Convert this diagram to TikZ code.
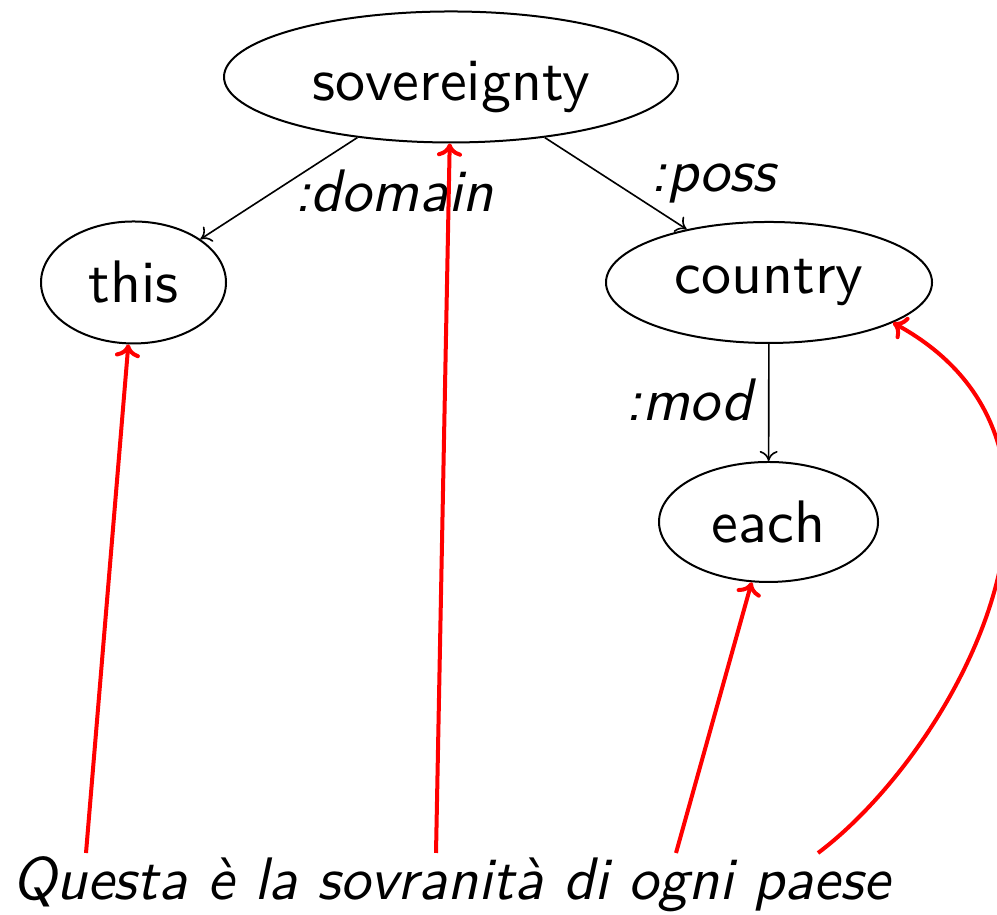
\documentclass[tikz,border=0pt]{standalone}
\usepackage{fontspec}
\usetikzlibrary{arrows.meta,shapes.geometric}
\newlength\pxu
\setlength\pxu{0.16667pt}
\begin{document}
\begin{tikzpicture}[x=0.16667pt,y=-0.16667pt,
  concept/.style={ellipse,draw,line width=0.333pt,inner sep=0pt,font=\sffamily},
  rel/.style={line width=0.27pt,-{Computer Modern Rightarrow[length=1.667pt,width=3pt]}},
  rellabel/.style={font=\sffamily\itshape,anchor=base,inner sep=0pt},
  wordlink/.style={red,line width=0.667pt,-{Computer Modern Rightarrow[length=2.167pt,width=4.167pt]}}]
\useasboundingbox (0,0) rectangle (997,915);

% concept nodes
\node[concept,minimum width=454\pxu,minimum height=131\pxu,text height=10pt,text depth=2pt] (sov) at (451,77) {sovereignty};
\node[concept,minimum width=185\pxu,minimum height=122\pxu] (this) at (133.5,282.5) {this};
\node[concept,minimum width=326\pxu,minimum height=121\pxu] (country) at (769,282.5) {country};
\node[concept,minimum width=219\pxu,minimum height=120\pxu] (each) at (768.5,522) {each};

% relations
\draw[rel] (sov) -- (this);
\draw[rel] (sov) -- (country);
\draw[rel] (country) -- (each);

\node[rellabel] (ldomain) at (394,212) {:domain};
\node[rellabel] (lposs) at (713,192) {:poss};
\node[rellabel] (lmod) at (689,421) {:mod};

% sentence and word anchors
\node[rellabel] (sent) at (451,900) {Questa è la sovranità di ogni paese};
\coordinate (wquesta) at (86,853);
\coordinate (wsovranita) at (436,853);
\coordinate (wogni) at (676,853);
\coordinate (wpaese) at (818,853);

% word-to-concept alignments
\draw[wordlink] (wquesta) -- (this);
\draw[wordlink] (wsovranita) -- (sov);
\draw[wordlink] (wogni) -- (each);
\draw[wordlink] (wpaese) .. controls +(136,-102) and +(229,125) .. (country.-18.5);
\end{tikzpicture}
\end{document}
